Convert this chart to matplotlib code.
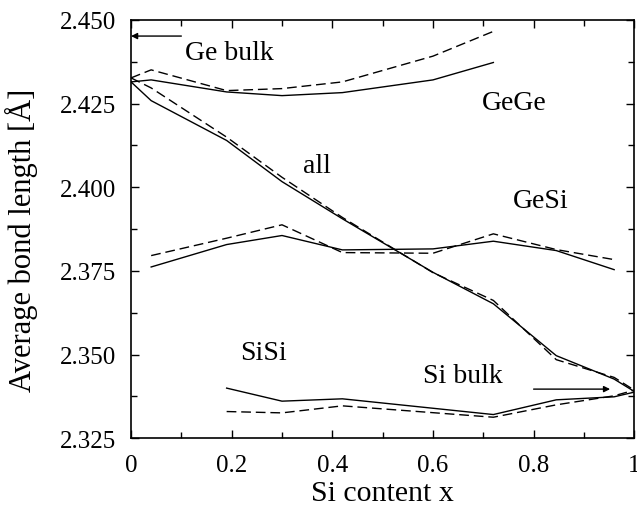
import matplotlib
matplotlib.use('Agg')
import matplotlib.pyplot as plt
from matplotlib.ticker import MultipleLocator, FixedLocator

plt.rcParams['font.family'] = ['Liberation Serif', 'DejaVu Serif']
plt.rcParams['mathtext.fontset'] = 'stix'

# Si-Gehalt x
x_all = [0.0, 0.04, 0.19, 0.30, 0.42, 0.60, 0.72, 0.845, 0.96, 1.0]
all_solid = [2.4315, 2.4259, 2.4140, 2.4017, 2.3906, 2.3746, 2.3652, 2.3497, 2.3427, 2.3390]
all_dash = [2.4327, 2.4297, 2.4150, 2.4030, 2.3910, 2.3745, 2.3662, 2.3485, 2.3432, 2.3394]

x_gege = [0.0, 0.04, 0.19, 0.30, 0.42, 0.60, 0.72]
gege_solid = [2.4315, 2.4321, 2.4285, 2.4274, 2.4283, 2.4321, 2.4373]
gege_dash = [2.4327, 2.4351, 2.4289, 2.4295, 2.4315, 2.4392, 2.4466]

x_gesi = [0.04, 0.19, 0.30, 0.42, 0.60, 0.72, 0.845, 0.96]
gesi_solid = [2.3762, 2.3829, 2.3856, 2.3813, 2.3816, 2.3839, 2.3811, 2.3754]
gesi_dash = [2.3796, 2.3848, 2.3888, 2.3805, 2.3803, 2.3861, 2.3814, 2.3784]

x_sisi = [0.19, 0.30, 0.42, 0.72, 0.845, 0.96, 1.0]
sisi_solid = [2.3400, 2.3361, 2.3368, 2.3321, 2.3365, 2.3374, 2.3388]
sisi_dash = [2.3330, 2.3326, 2.3347, 2.3313, 2.3350, 2.3377, 2.3394]

ge_bulk = 2.4452
si_bulk = 2.3397

fig = plt.figure(figsize=(6.37, 5.06), dpi=100)
ax = fig.add_axes([0.2057, 0.1318, 0.79, 0.8267])

lw = 1.0
for xs, ys in [(x_all, all_solid), (x_gege, gege_solid), (x_gesi, gesi_solid), (x_sisi, sisi_solid)]:
    ax.plot(xs, ys, color='black', lw=lw)
for xs, ys in [(x_all, all_dash), (x_gege, gege_dash), (x_gesi, gesi_dash), (x_sisi, sisi_dash)]:
    ax.plot(xs, ys, color='black', lw=lw, dashes=(7, 3.5))

# Pfeile fuer Bulk-Werte
ax.annotate('', xy=(0.0, ge_bulk), xytext=(0.1, ge_bulk),
            arrowprops=dict(arrowstyle='-|>', color='black', lw=1.0, mutation_scale=9, shrinkA=0, shrinkB=0))
ax.annotate('', xy=(0.952, si_bulk), xytext=(0.8, si_bulk),
            arrowprops=dict(arrowstyle='-|>', color='black', lw=1.0, mutation_scale=9, shrinkA=0, shrinkB=0))

fs = 20
ax.text(0.107, 2.4402, 'Ge bulk', fontsize=fs, va='center', ha='left')
ax.text(0.697, 2.4253, 'GeGe', fontsize=fs, va='center', ha='left')
ax.text(0.342, 2.4065, 'all', fontsize=fs, va='center', ha='left')
ax.text(0.759, 2.3961, 'GeSi', fontsize=fs, va='center', ha='left')
ax.text(0.216, 2.3505, 'SiSi', fontsize=fs, va='center', ha='left')
ax.text(0.580, 2.3437, 'Si bulk', fontsize=fs, va='center', ha='left')

ax.set_xlim(0, 1)
ax.set_ylim(2.325, 2.450)
ax.xaxis.set_major_locator(FixedLocator([0, 0.2, 0.4, 0.6, 0.8, 1.0]))
ax.set_xticklabels(['0', '0.2', '0.4', '0.6', '0.8', '1'])
ax.xaxis.set_minor_locator(MultipleLocator(0.1))
ax.yaxis.set_major_locator(MultipleLocator(0.025))
ax.yaxis.set_minor_locator(MultipleLocator(0.0125))
ax.yaxis.set_major_formatter(plt.FuncFormatter(lambda v, p: f'{v:.3f}'))

ax.tick_params(which='both', direction='in', top=True, right=True, labelsize=18, width=1.0)
ax.tick_params(which='major', length=6, pad=11)
ax.tick_params(which='minor', length=4)
for s in ax.spines.values():
    s.set_linewidth(1.2)

ax.set_xlabel('Si content x', fontsize=21.5)
ax.set_ylabel('Average bond length [Å]', fontsize=22)
ax.xaxis.set_label_coords(0.5, -0.1)
ax.yaxis.set_label_coords(-0.185, 0.475)

fig.savefig('out.png', dpi=100)
